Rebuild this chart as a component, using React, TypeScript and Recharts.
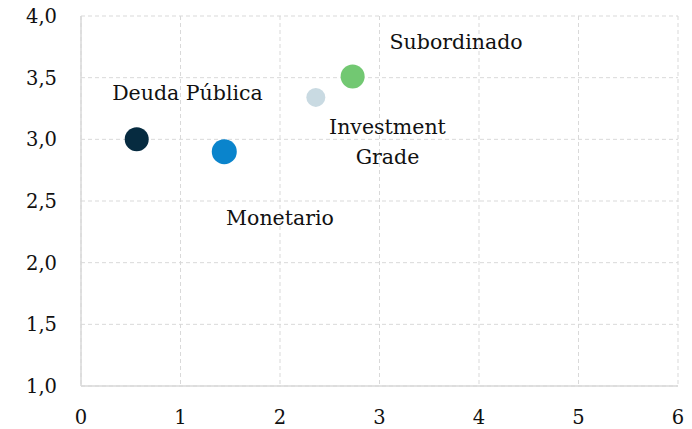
import React from 'react';
import { ScatterChart, Scatter, XAxis, YAxis, CartesianGrid, Cell } from 'recharts';

const seriesNames = ['Deuda Pública', 'Monetario', 'Investment Grade', 'Subordinado'];
const xValues = [0.56, 1.44, 2.36, 2.73];
const yValues = [3.0, 2.9, 3.34, 3.51];
const pointColors = ['#062b40', '#0a84cc', '#c9dae2', '#72c872'];
const pointRadii = [12, 12.5, 9.5, 12];

const labelLines = [['Deuda Pública'], ['Monetario'], ['Investment', 'Grade'], ['Subordinado']];
const labelX = [1.07, 2.0, 3.08, 3.77];
const labelY = [3.38, 2.36, 2.98, 3.79];

const xTicks = [0, 1, 2, 3, 4, 5, 6];
const yTicks = [1.0, 1.5, 2.0, 2.5, 3.0, 3.5, 4.0];

const FONT = '"DejaVu Serif", serif';

const points = seriesNames.map((n, i) => ({ name: n, x: xValues[i], y: yValues[i], r: pointRadii[i] }));
const labels = labelLines.map((l, i) => ({ lines: l, x: labelX[i], y: labelY[i] }));

const DotShape = (props: any) => {
  const { cx, cy, payload, fill } = props;
  return <circle cx={cx} cy={cy} r={payload.r} fill={fill} />;
};

const LabelShape = (props: any) => {
  const { cx, cy, payload } = props;
  const lines: string[] = payload.lines;
  const lh = 30;
  const start = cy - ((lines.length - 1) * lh) / 2;
  return (
    <text textAnchor="middle" fontFamily={FONT} fontSize={20.5} fill="#111">
      {lines.map((t, i) => (
        <tspan key={i} x={cx} y={start + i * lh} dy="0.35em">{t}</tspan>
      ))}
    </text>
  );
};

export default function App() {
  return (
    <div style={{ position: 'absolute', left: 0, top: 0, background: '#fff' }}>
      <ScatterChart width={692} height={429} margin={{ top: 16, right: 14, bottom: 0, left: 0 }}>
        <CartesianGrid stroke="#d9d9d9" strokeDasharray="4 3" />
        <XAxis
          type="number"
          dataKey="x"
          domain={[0, 6]}
          ticks={xTicks}
          height={43}
          tickLine={false}
          tickSize={6}
          tickMargin={18}
          axisLine={{ stroke: '#d9d9d9', strokeWidth: 1.5 }}
          tick={{ fontFamily: FONT, fontSize: 19.5, fill: '#111' }}
          interval={0}
        />
        <YAxis
          type="number"
          dataKey="y"
          domain={[1, 4]}
          ticks={yTicks}
          width={81}
          tickLine={false}
          tickSize={6}
          tickMargin={18}
          axisLine={{ stroke: '#d9d9d9', strokeWidth: 1.5 }}
          tick={{ fontFamily: FONT, fontSize: 19.5, fill: '#111' }}
          tickFormatter={(v: number) => v.toFixed(1).replace('.', ',')}
          interval={0}
        />
        <Scatter data={points} shape={DotShape} isAnimationActive={false}>
          {points.map((p, i) => (
            <Cell key={i} fill={pointColors[i]} />
          ))}
        </Scatter>
        <Scatter data={labels} shape={LabelShape} isAnimationActive={false} />
      </ScatterChart>
    </div>
  );
}
